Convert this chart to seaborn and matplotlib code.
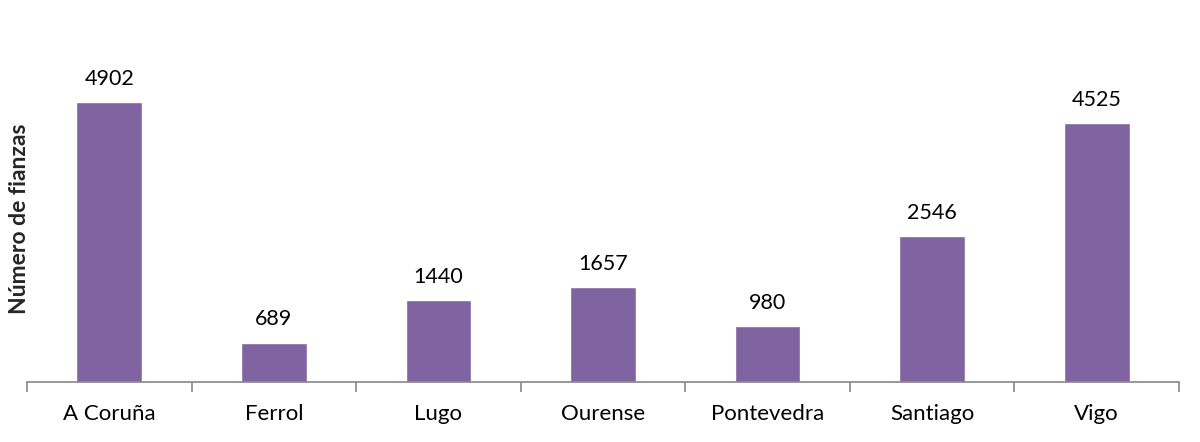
import matplotlib
matplotlib.use("Agg")
import matplotlib.pyplot as plt
import seaborn as sns
import pandas as pd
import numpy as np

categories = ["A Coruña", "Ferrol", "Lugo", "Ourense", "Pontevedra", "Santiago", "Vigo"]
values = [4902, 689, 1440, 1657, 980, 2546, 4525]

sns.set_style("white")
plt.rcParams['font.family'] = ['Lato', 'DejaVu Sans']

df = pd.DataFrame({"cat": categories, "val": values})

fig = plt.figure(figsize=(12, 4.42), dpi=100)
ax = fig.add_axes([0.0225, 0.1357, 0.96, 0.776])
sns.barplot(data=df, x="cat", y="val", color="#8064A2", saturation=1, width=0.4, ax=ax)

ax.set_xlim(-0.5, len(categories) - 0.5)
ax.set_ylim(0, 6000)
for p, v in zip(ax.patches, values):
    ax.text(p.get_x() + p.get_width() / 2, v + 230, str(v), ha="center", va="bottom",
            fontsize=15.5, color="#000000")

for s in ["top", "right", "left"]:
    ax.spines[s].set_visible(False)
ax.spines["bottom"].set_color("#868686")
ax.spines["bottom"].set_linewidth(1.2)
ax.set_yticks([])
ax.set_xlabel("")
ax.set_ylabel("Número de fianzas", fontsize=16.5, fontweight="bold")
ax.yaxis.set_label_coords(0.003, 0.475)
ax.tick_params(axis="x", which="major", bottom=False, length=0, labelsize=16, pad=16, colors="#000000")
ax.set_xticks(np.arange(-0.5, len(categories)), minor=True)
ax.tick_params(axis="x", which="minor", bottom=True, length=7, width=1.2, color="#868686", direction="out")

fig.savefig("out.png", dpi=100)
